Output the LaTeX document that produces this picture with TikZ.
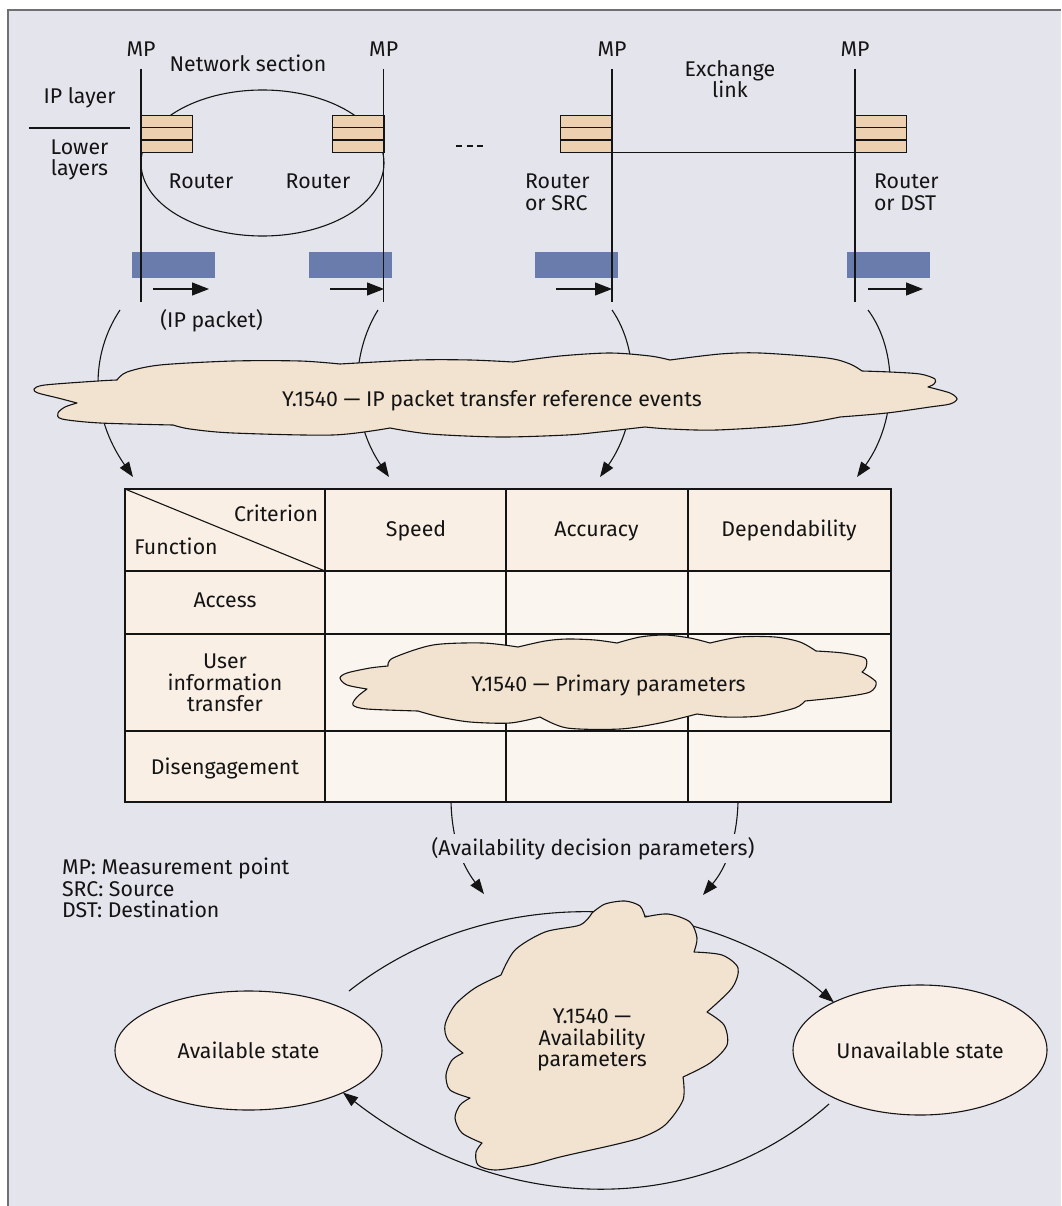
\documentclass[tikz,border=0pt]{standalone}
\usepackage{fontspec}
\setmainfont{Fira Sans}
\usetikzlibrary{arrows.meta,shapes.geometric}

\definecolor{page}{RGB}{255,255,255}
\definecolor{panel}{RGB}{228,228,237}
\definecolor{framegray}{RGB}{112,112,112}
\definecolor{ink}{RGB}{20,20,20}
\definecolor{stackfill}{RGB}{237,208,176}
\definecolor{packetblue}{RGB}{106,124,171}
\definecolor{cloudfill}{RGB}{242,226,208}
\definecolor{headfill}{RGB}{249,239,229}
\definecolor{bodyfill}{RGB}{251,245,239}
\definecolor{statefill}{RGB}{249,239,230}

\begin{document}
\begin{tikzpicture}[x=1pt,y=-1pt,
  txt/.style={font=\fontsize{21.3}{21.6}\selectfont, inner sep=0pt, outer sep=0pt, text=ink},
  lbl/.style={txt, anchor=base},
  conn/.style={draw=ink, line width=1.1pt},
  headtip/.style={-{Triangle[length=15pt,width=11pt]}},
  smalltip/.style={-{Triangle[length=17pt,width=13pt]}},
  mpline/.style={draw=ink, line width=1.4pt},
  stackcell/.style={draw=ink, line width=1.2pt, fill=stackfill},
  cloudpath/.style={draw=ink, line width=1.1pt, fill=cloudfill, line join=round},
  tablegrid/.style={draw=ink, line width=1.3pt},
  stateell/.style={txt, ellipse, draw=ink, line width=1.1pt, fill=statefill},
]
\useasboundingbox (0,0) rectangle (1061,1206);
\fill[page] (0,0) rectangle (1061,1206);
\fill[panel] (8,10) rectangle (1061,1206);
\draw[framegray, line width=1.5pt] (8,1206) -- (8,10) -- (1061,10);

% ---------- network section and exchange link ----------
\node[ellipse, draw=ink, line width=1.1pt, minimum width=243pt, minimum height=146pt, inner sep=0pt] (netsec) at (262.5,163) {};
\foreach \sx in {141,332.5,560.5,855}{
  \foreach \k in {0,1,2}
    \draw[stackcell] (\sx,115.7+12.2*\k) rectangle ++(51.5,12.2);
}
\draw[conn] (612,152.3) -- (855,152.3);

% packet bars
\foreach \bx in {132,309,535,847}
  \fill[packetblue] (\bx,252) rectangle ++(83,26);

% measurement points
\foreach \mx/\nm in {141/mpa,383.7/mpb,612/mpc,855/mpd}{
  \node[lbl] (\nm) at (\mx,57) {MP};
  \draw[mpline] (\mx,69) -- (\mx,302);
}

% packet direction arrows
\draw[conn,smalltip] (153,289) -- (209,289);
\draw[conn,smalltip] (330,289) -- (384,289);
\draw[conn,smalltip] (556,289) -- (612,289);
\draw[conn,smalltip] (868,289) -- (923,289);

% layer labels
\node[lbl] (netlbl) at (248,72) {Network section};
\node[lbl] (iplayer) at (79.5,104) {IP layer};
\draw[conn] (29,128) -- (130,128);
\node[txt, align=center] (lower) at (79.5,160) {Lower\\layers};
\node[lbl] (rta) at (201,189) {Router};
\node[lbl] (rtb) at (318,189) {Router};
\draw[conn, dash pattern=on 6pt off 4.5pt] (456,146) -- (483,146);
\node[txt, align=center] (exlink) at (730,79) {Exchange\\link};
\node[txt, align=left, anchor=west] (rsrc) at (525,192.5) {Router\\or SRC};
\node[txt, align=left, anchor=west] (rdst) at (874,192.5) {Router\\or DST};
\node[lbl] (ippkt) at (211.5,327) {(IP packet)};

% ---------- reference events ----------
\coordinate (ev1a) at (120,310); \coordinate (ev1b) at (133,477);
\coordinate (ev2a) at (378,310); \coordinate (ev2b) at (389,477);
\coordinate (ev3a) at (612,310); \coordinate (ev3b) at (600,477);
\coordinate (ev4a) at (868,310); \coordinate (ev4b) at (857,477);
\draw[conn,headtip] (ev1a) .. controls (90,355) and (90,415) .. (ev1b);
\draw[conn,headtip] (ev2a) .. controls (350,355) and (350,420) .. (ev2b);
\draw[conn,headtip] (ev3a) .. controls (640,350) and (640,420) .. (ev3b);
\draw[conn,headtip] (ev4a) .. controls (898,350) and (898,420) .. (ev4b);

\path[cloudpath]
  plot[smooth] coordinates {(77,403) (58,398) (38,393) (34,389) (45,385) (98,381) (117,380)}
  -- plot[smooth] coordinates {(117,380) (127,372) (160,365) (233,361) (300,361) (340,364)}
  -- plot[smooth] coordinates {(340,364) (417,360) (470,360) (513,362)}
  -- plot[smooth] coordinates {(513,362) (560,356) (610,353) (650,356) (670,360)}
  -- plot[smooth] coordinates {(670,360) (720,354) (760,353) (827,358) (850,364) (862,371)}
  -- plot[smooth] coordinates {(862,371) (890,372) (920,374) (935,379) (934,384) (928,387)}
  -- plot[smooth] coordinates {(928,387) (950,393) (957,399) (950,404) (930,407) (887,413) (840,417)}
  -- plot[smooth] coordinates {(840,417) (793,425) (717,430) (670,429) (645,427)}
  -- plot[smooth] coordinates {(645,427) (600,432) (567,435) (500,437) (430,434) (390,428)}
  -- plot[smooth] coordinates {(390,428) (333,435) (233,433) (190,429) (173,425)}
  -- plot[smooth] coordinates {(173,425) (100,423) (62,419) (58,413) (65,407) (77,403)}
  -- cycle;
\node[lbl] (events) at (492,406) {Y.1540 — IP packet transfer reference events};

% ---------- criterion / function table ----------
\fill[headfill] (125,489) rectangle (891,802);
\fill[bodyfill] (325,571) rectangle (891,802);
\draw[tablegrid] (125,489) rectangle (891,802);
\foreach \ty in {571,634,731} \draw[tablegrid] (125,\ty) -- (891,\ty);
\foreach \tx in {325,506,688} \draw[tablegrid] (\tx,489) -- (\tx,802);
\draw[conn] (125,489) -- (325,571);
\node[lbl] (crit) at (276,521) {Criterion};
\node[lbl] (func) at (176,554) {Function};
\node[lbl] (speed) at (416,536) {Speed};
\node[lbl] (accur) at (596.5,536) {Accuracy};
\node[lbl] (depend) at (789,536) {Dependability};
\node[lbl] (access) at (225,607) {Access};
\node[txt, align=center] (uit) at (225,683) {User\\information\\transfer};
\node[lbl] (diseng) at (225,774) {Disengagement};

\path[cloudpath]
  plot[smooth] coordinates {(388,666) (393,658) (433,645) (483,643) (518,647)}
  -- plot[smooth] coordinates {(518,647) (545,641) (567,639) (595,640) (617,643)}
  -- plot[smooth] coordinates {(617,643) (640,637) (665,635) (690,638) (710,643)}
  -- plot[smooth] coordinates {(710,643) (740,637) (775,637) (800,642) (816,651)}
  -- plot[smooth] coordinates {(816,651) (843,653) (865,658) (866,667) (862,672)}
  -- plot[smooth] coordinates {(862,672) (876,682) (870,692) (843,697) (805,701)}
  -- plot[smooth] coordinates {(805,701) (795,708) (760,716) (725,717) (697,714)}
  -- plot[smooth] coordinates {(697,714) (660,723) (620,729) (567,728) (540,717)}
  -- plot[smooth] coordinates {(540,717) (510,723) (470,722) (440,717) (418,711)}
  -- plot[smooth] coordinates {(418,711) (367,709) (353,705) (357,697) (367,689)}
  -- plot[smooth] coordinates {(367,689) (347,685) (340,678) (347,673) (370,668) (388,666)}
  -- cycle;
\node[lbl] (primary) at (608.5,691) {Y.1540 — Primary parameters};

% ---------- availability decision ----------
\coordinate (dla) at (451,802); \coordinate (dlb) at (484,894);
\coordinate (dra) at (738,802); \coordinate (drb) at (703,895);
\draw[conn,headtip] (dla) .. controls (452,840) and (462,865) .. (dlb);
\draw[conn,headtip] (dra) .. controls (737,840) and (726,868) .. (drb);
\node[lbl, fill=panel, inner xsep=2pt, inner ysep=3pt] (decision) at (593,855) {(Availability decision parameters)};

\node[txt, align=left, anchor=west] (legend) at (62,888) {MP: Measurement point\\SRC: Source\\DST: Destination};

% ---------- availability states ----------
\node[stateell, minimum width=267pt, minimum height=119pt] (avail) at (248.5,1050.5) {Available state};
\node[stateell, minimum width=254pt, minimum height=130pt] (unavail) at (920,1050) {Unavailable state};
\coordinate (toarc) at (349,991);
\coordinate (botarc) at (829,1104);
\draw[conn,headtip] (toarc) .. controls (490,880) and (700,890) .. (unavail.151);
\draw[conn,headtip] (botarc) .. controls (700,1218) and (504,1218) .. (avail.-24);

\path[cloudpath]
  plot[smooth] coordinates {(501,975) (515,950) (545,932) (580,925) (592,913)}
  -- plot[smooth] coordinates {(592,913) (605,904) (625,901) (640,906) (645,917)}
  -- plot[smooth] coordinates {(645,917) (668,914) (690,922) (697,938) (694,952)}
  -- plot[smooth] coordinates {(694,952) (722,955) (738,968) (732,988) (707,1012)}
  -- plot[smooth] coordinates {(707,1012) (724,1025) (727,1045) (710,1063) (683,1077)}
  -- plot[smooth] coordinates {(683,1077) (683,1100) (665,1125) (640,1138) (600,1148)}
  -- plot[smooth] coordinates {(600,1148) (560,1157) (530,1165) (495,1170) (478,1165) (476,1152) (482,1143)}
  -- plot[smooth] coordinates {(482,1143) (462,1133) (455,1118) (460,1105) (470,1098)}
  -- plot[smooth] coordinates {(470,1098) (450,1090) (446,1075) (452,1060) (463,1053)}
  -- plot[smooth] coordinates {(463,1053) (448,1040) (445,1025) (455,1005) (475,988) (501,975)}
  -- cycle;
\node[txt, align=center] (availp) at (592,1040) {Y.1540 —\\Availability\\parameters};
\end{tikzpicture}
\end{document}
